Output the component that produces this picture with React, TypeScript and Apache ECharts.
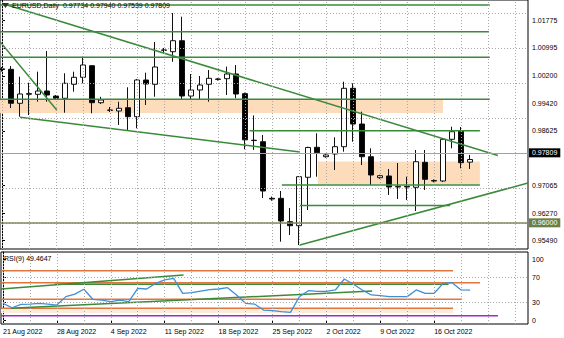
import React, { useEffect, useRef } from "react";
import * as echarts from "echarts";

// ---------- data ----------
const symbolName = "EURUSD,Daily";
const weekLabels = ["21 Aug 2022", "28 Aug 2022", "4 Sep 2022", "11 Sep 2022", "18 Sep 2022", "25 Sep 2022", "2 Oct 2022", "9 Oct 2022", "16 Oct 2022"];
const opens = [1.0040, 1.00386, 0.99415, 0.99690, 0.99672, 0.99766, 0.99623, 0.99558, 0.99958, 1.00158, 1.00489, 0.99432, 0.99223, 0.99195, 0.99289, 0.99032, 1.00080, 0.99958, 1.00938, 1.00889, 1.01203, 0.99623, 0.99795, 0.99958, 1.00109, 1.00118, 1.00252, 0.99690, 0.98350, 0.98318, 0.96700, 0.96700, 0.96032, 0.95918, 0.97301, 0.98158, 0.97889, 0.97966, 0.98175, 0.99843, 0.98823, 0.97889, 0.97289, 0.97338, 0.97023, 0.97040, 0.97015, 0.97729, 0.97206, 0.97195, 0.98386, 0.98623, 0.97734];
const highs = [1.0045, 1.00480, 1.00175, 1.00003, 1.00318, 1.00909, 0.99652, 1.00272, 1.00318, 1.00746, 1.00509, 0.99600, 0.99309, 0.99460, 0.99872, 1.00109, 1.00289, 1.01166, 1.00995, 1.01995, 1.01889, 1.00252, 1.00195, 1.00366, 1.00137, 1.00461, 1.00509, 0.99720, 0.99069, 0.98509, 0.96750, 0.96909, 0.96423, 0.97338, 0.98175, 0.98558, 0.97970, 0.98443, 1.00032, 0.99986, 0.99175, 0.98129, 0.97370, 0.97538, 0.97709, 0.97318, 0.98080, 0.98080, 0.97240, 0.98395, 0.98746, 0.98738, 0.97940];
const lows = [1.0032, 0.99280, 0.99032, 0.99080, 0.99460, 0.99460, 0.99523, 0.99146, 0.99746, 0.99986, 0.99129, 0.99395, 0.99166, 0.98795, 0.98652, 0.98700, 0.99366, 0.99603, 1.00852, 1.00603, 0.99509, 0.99509, 0.99509, 0.99460, 1.00066, 0.99652, 0.99558, 0.98100, 0.98081, 0.96709, 0.96630, 0.95461, 0.95652, 0.95366, 0.96366, 0.97318, 0.97860, 0.97509, 0.98032, 0.98318, 0.97652, 0.97081, 0.97260, 0.96795, 0.96680, 0.96652, 0.96338, 0.96938, 0.97160, 0.97166, 0.98129, 0.97558, 0.97539];
const closes = [1.0038, 0.99415, 0.99680, 0.99675, 0.99766, 0.99652, 0.99558, 0.99986, 1.00158, 1.00509, 0.99432, 0.99509, 0.99215, 0.99272, 0.99032, 1.00080, 0.99966, 1.00452, 1.00930, 1.01203, 0.99623, 0.99795, 0.99938, 1.00129, 1.00100, 1.00252, 0.99680, 0.98370, 0.98360, 0.96909, 0.96680, 0.96052, 0.95918, 0.97318, 0.98152, 0.98003, 0.97938, 0.98175, 0.99843, 0.98823, 0.97889, 0.97366, 0.97346, 0.97023, 0.97040, 0.97023, 0.97746, 0.97243, 0.97195, 0.98386, 0.98603, 0.97718, 0.97809];
const rsiValues = [28.2, 21, 26.6, 27, 28, 27, 25.4, 39, 43, 51, 34.7, 33.5, 31, 33.5, 31, 52.5, 51.4, 60.6, 66, 68.7, 44.4, 45.4, 48, 50.5, 51.4, 53.5, 41.7, 28.2, 27, 17.3, 16.2, 14.6, 13.6, 39, 48.6, 47.6, 47.6, 49.8, 67.6, 59, 49.8, 41.7, 40.5, 39, 39, 39, 49.8, 44.4, 44.4, 60.6, 61.6, 49.8, 49.4647];
const priceTicks = [0.95490, 0.96270, 0.97065, 0.98625, 0.99420, 1.00200, 1.00995, 1.01775];
const rsiTicks = [0, 30, 70, 100];
const rsiLevels = [30, 70];
const supportLevel = 0.96000;
// drawn objects (bar index, price)
const greenHorizontals = [
  [-0.22, 54.2, 1.02223],
  [-0.22, 54.1, 1.01460],
  [-0.22, 54.2, 1.00729],
  [-0.22, 54.2, 0.99529],
  [27.5, 53.1, 0.98632],
  [31.1, 53.1, 0.97081],
  [33.1, 49.8, 0.96495],
];
const greenTrends = [
  [0.56, 1.02223, 55.1, 0.97923],
  [-0.22, 1.01175, 6.08, 0.99223],
  [2, 0.99015, 33.1, 0.98023],
  [33.1, 0.95366, 58.44, 0.97138],
];
const peachBoxes = [
  [-0.22, 49.0, 0.99523, 0.99138],
  [35.1, 53.1, 0.97752, 0.97109],
];
const rsiOrangeLevels = [
  [-0.22, 50.1, 81],
  [-0.22, 53.1, 61.6],
  [-0.22, 51.1, 34.7],
  [-0.22, 50.1, 20],
];
const rsiPurpleLevel = [-0.22, 55.1, 8];
const rsiGreenLevel = [5.78, 49.6, 59];
const rsiGreenTrends = [
  [-0.22, 51.4, 20.1, 74.1],
  [0.89, 20.1, 41.1, 48.1],
];
const rsiPeachBand = [-0.22, 50.1, 18.8, 12.3];

const FONT = "Liberation Sans";
const GREEN = "#3a8a3a";
const ORANGE = "#e0763e";

export default function App() {
  const ref = useRef<HTMLDivElement>(null);
  useEffect(() => {
    if (!ref.current) return;
    const chart = echarts.init(ref.current, undefined, { renderer: "svg" });
    const n = closes.length;
    const xMin = -2 / 9;
    const xMax = 526 / 9;
    const candleData = closes.map((c, i) => [i, opens[i], c, lows[i], highs[i]]);
    const weekIdx = weekLabels.map((_, k) => k * 6);
    const vGrid: number[] = [];
    for (let i = 0; i <= 57; i += 3) vGrid.push(i);
    const last = n - 1;
    const titleText = `${symbolName}  ${opens[last].toFixed(5)} ${highs[last].toFixed(5)} ${lows[last].toFixed(5)} ${closes[last].toFixed(5)}`;

    const lineSeries = (xi: number, pts: number[][], color: string, width: number, z: number) => ({
      type: "line",
      xAxisIndex: xi,
      yAxisIndex: xi,
      data: pts,
      symbol: "none",
      silent: true,
      z,
      lineStyle: { color, width },
    });

    const series: any[] = [];
    // grid lines main
    series.push({
      type: "line", xAxisIndex: 0, yAxisIndex: 0, data: [], z: 0, silent: true,
      markLine: {
        silent: true, symbol: ["none", "none"], animation: false,
        label: { show: false },
        lineStyle: { type: [1, 2], color: "#a8a8a8", width: 1 },
        data: [...priceTicks.map((v) => ({ yAxis: v })), ...vGrid.map((v) => ({ xAxis: v }))],
      },
    });
    // peach boxes
    series.push({
      type: "line", xAxisIndex: 0, yAxisIndex: 0, data: [], z: 1, silent: true,
      markArea: {
        silent: true,
        itemStyle: { color: "#fddcbc" },
        data: peachBoxes.map((b) => [{ xAxis: b[0], yAxis: b[2] }, { xAxis: b[1], yAxis: b[3] }]),
      },
    });
    // bid and support lines
    series.push({
      type: "line", xAxisIndex: 0, yAxisIndex: 0, data: [], z: 2, silent: true,
      markLine: {
        silent: true, symbol: ["none", "none"], animation: false,
        data: [
          {
            yAxis: supportLevel,
            lineStyle: { color: "#7f8a5c", type: "solid", width: 1.5 },
            label: { show: true, position: "end", distance: 1, formatter: supportLevel.toFixed(5), color: "#fff", backgroundColor: "#6f7f42", padding: [1, 3, 1, 3], fontSize: 7, fontFamily: FONT },
          },
          {
            yAxis: closes[last],
            lineStyle: { color: "#a0a0a0", type: "solid", width: 1 },
            label: { show: true, position: "end", distance: 1, formatter: closes[last].toFixed(5), color: "#fff", backgroundColor: "#000", padding: [1, 3, 1, 3], fontSize: 7, fontFamily: FONT },
          },
        ],
      },
    });
    // candles
    series.push({
      type: "candlestick", xAxisIndex: 0, yAxisIndex: 0, z: 3, silent: true,
      data: candleData,
      encode: { x: 0, y: [1, 2, 3, 4] },
      barWidth: 5,
      itemStyle: { color: "#fff", color0: "#000", borderColor: "#111", borderColor0: "#111", borderWidth: 1 },
    });
    greenHorizontals.forEach((h) => series.push(lineSeries(0, [[h[0], h[2]], [h[1], h[2]]], GREEN, 1.5, 4)));
    greenTrends.forEach((t) => series.push(lineSeries(0, [[t[0], t[1]], [t[2], t[3]]], GREEN, 1.5, 4)));

    // RSI panel
    series.push({
      type: "line", xAxisIndex: 1, yAxisIndex: 1, data: [], z: 0, silent: true,
      markLine: {
        silent: true, symbol: ["none", "none"], animation: false,
        label: { show: false },
        lineStyle: { type: [1, 2], color: "#a8a8a8", width: 1 },
        data: [...rsiLevels.map((v) => ({ yAxis: v })), ...vGrid.map((v) => ({ xAxis: v }))],
      },
    });
    series.push({
      type: "line", xAxisIndex: 1, yAxisIndex: 1, data: [], z: 1, silent: true,
      markArea: {
        silent: true,
        itemStyle: { color: "#fdecdc" },
        data: [[{ xAxis: rsiPeachBand[0], yAxis: rsiPeachBand[2] }, { xAxis: rsiPeachBand[1], yAxis: rsiPeachBand[3] }]],
      },
    });
    rsiOrangeLevels.forEach((h) => series.push(lineSeries(1, [[h[0], h[2]], [h[1], h[2]]], ORANGE, 1.5, 2)));
    series.push(lineSeries(1, [[rsiPurpleLevel[0], rsiPurpleLevel[2]], [rsiPurpleLevel[1], rsiPurpleLevel[2]]], "#9a2fc0", 1.5, 2));
    series.push(lineSeries(1, [[rsiGreenLevel[0], rsiGreenLevel[2]], [rsiGreenLevel[1], rsiGreenLevel[2]]], GREEN, 1.5, 2));
    rsiGreenTrends.forEach((t) => series.push(lineSeries(1, [[t[0], t[1]], [t[2], t[3]]], GREEN, 1.5, 2)));
    series.push(lineSeries(1, rsiValues.map((v, i) => [i, v]), "#3f8fd8", 1.3, 3));

    const option: any = {
      animation: false,
      backgroundColor: "#fff",
      textStyle: { fontFamily: FONT },
      grid: [
        { left: 0, top: 0, width: 528, height: 249, show: true, borderColor: "#000", borderWidth: 1, backgroundColor: "#fff" },
        { left: 0, top: 252, width: 528, height: 72, show: true, borderColor: "#000", borderWidth: 1, backgroundColor: "#fff" },
      ],
      xAxis: [
        { gridIndex: 0, type: "value", min: xMin, max: xMax, show: false, splitLine: { show: false } },
        {
          gridIndex: 1, type: "value", min: xMin, max: xMax,
          axisLine: { show: false },
          splitLine: { show: false },
          axisTick: { show: true, customValues: weekIdx, length: 3, lineStyle: { color: "#000" } },
          axisLabel: {
            customValues: weekIdx, align: "left", fontSize: 7, color: "#000", margin: 4, fontFamily: FONT,
            formatter: (v: number) => weekLabels[Math.round(v / 6)] ?? "",
          },
        },
      ],
      yAxis: [
        {
          gridIndex: 0, type: "value", position: "right", min: 0.952521, max: 1.02366, scale: true,
          axisLine: { show: true, lineStyle: { color: "#000" } },
          splitLine: { show: false },
          axisTick: { show: true, customValues: priceTicks, length: 3, lineStyle: { color: "#000" } },
          axisLabel: { customValues: priceTicks, fontSize: 7, color: "#000", margin: 4, fontFamily: FONT, formatter: (v: number) => v.toFixed(5) },
        },
        {
          gridIndex: 1, type: "value", position: "right", min: -5.35, max: 111.35,
          axisLine: { show: true, lineStyle: { color: "#000" } },
          splitLine: { show: false },
          axisTick: { show: true, customValues: rsiTicks, length: 3, lineStyle: { color: "#000" } },
          axisLabel: { customValues: rsiTicks, fontSize: 7, color: "#000", margin: 4, fontFamily: FONT, formatter: (v: number) => String(v) },
        },
      ],
      graphic: [
        { type: "polygon", shape: { points: [[2, 3], [9, 3], [5.5, 8]] }, style: { fill: "#333" }, z: 10 },
        { type: "text", left: 12, top: 2, z: 10, style: { text: titleText, font: `7px "${FONT}"`, fill: "#000" } },
        { type: "text", left: 4, top: 255, z: 10, style: { text: `RSI(9) ${rsiValues[last].toFixed(4)}`, font: `7px "${FONT}"`, fill: "#000" } },
      ],
      series,
    };
    chart.setOption(option);
    return () => chart.dispose();
  }, []);
  return <div ref={ref} style={{ position: "fixed", left: 0, top: 0, width: 564, height: 338 }} />;
}
